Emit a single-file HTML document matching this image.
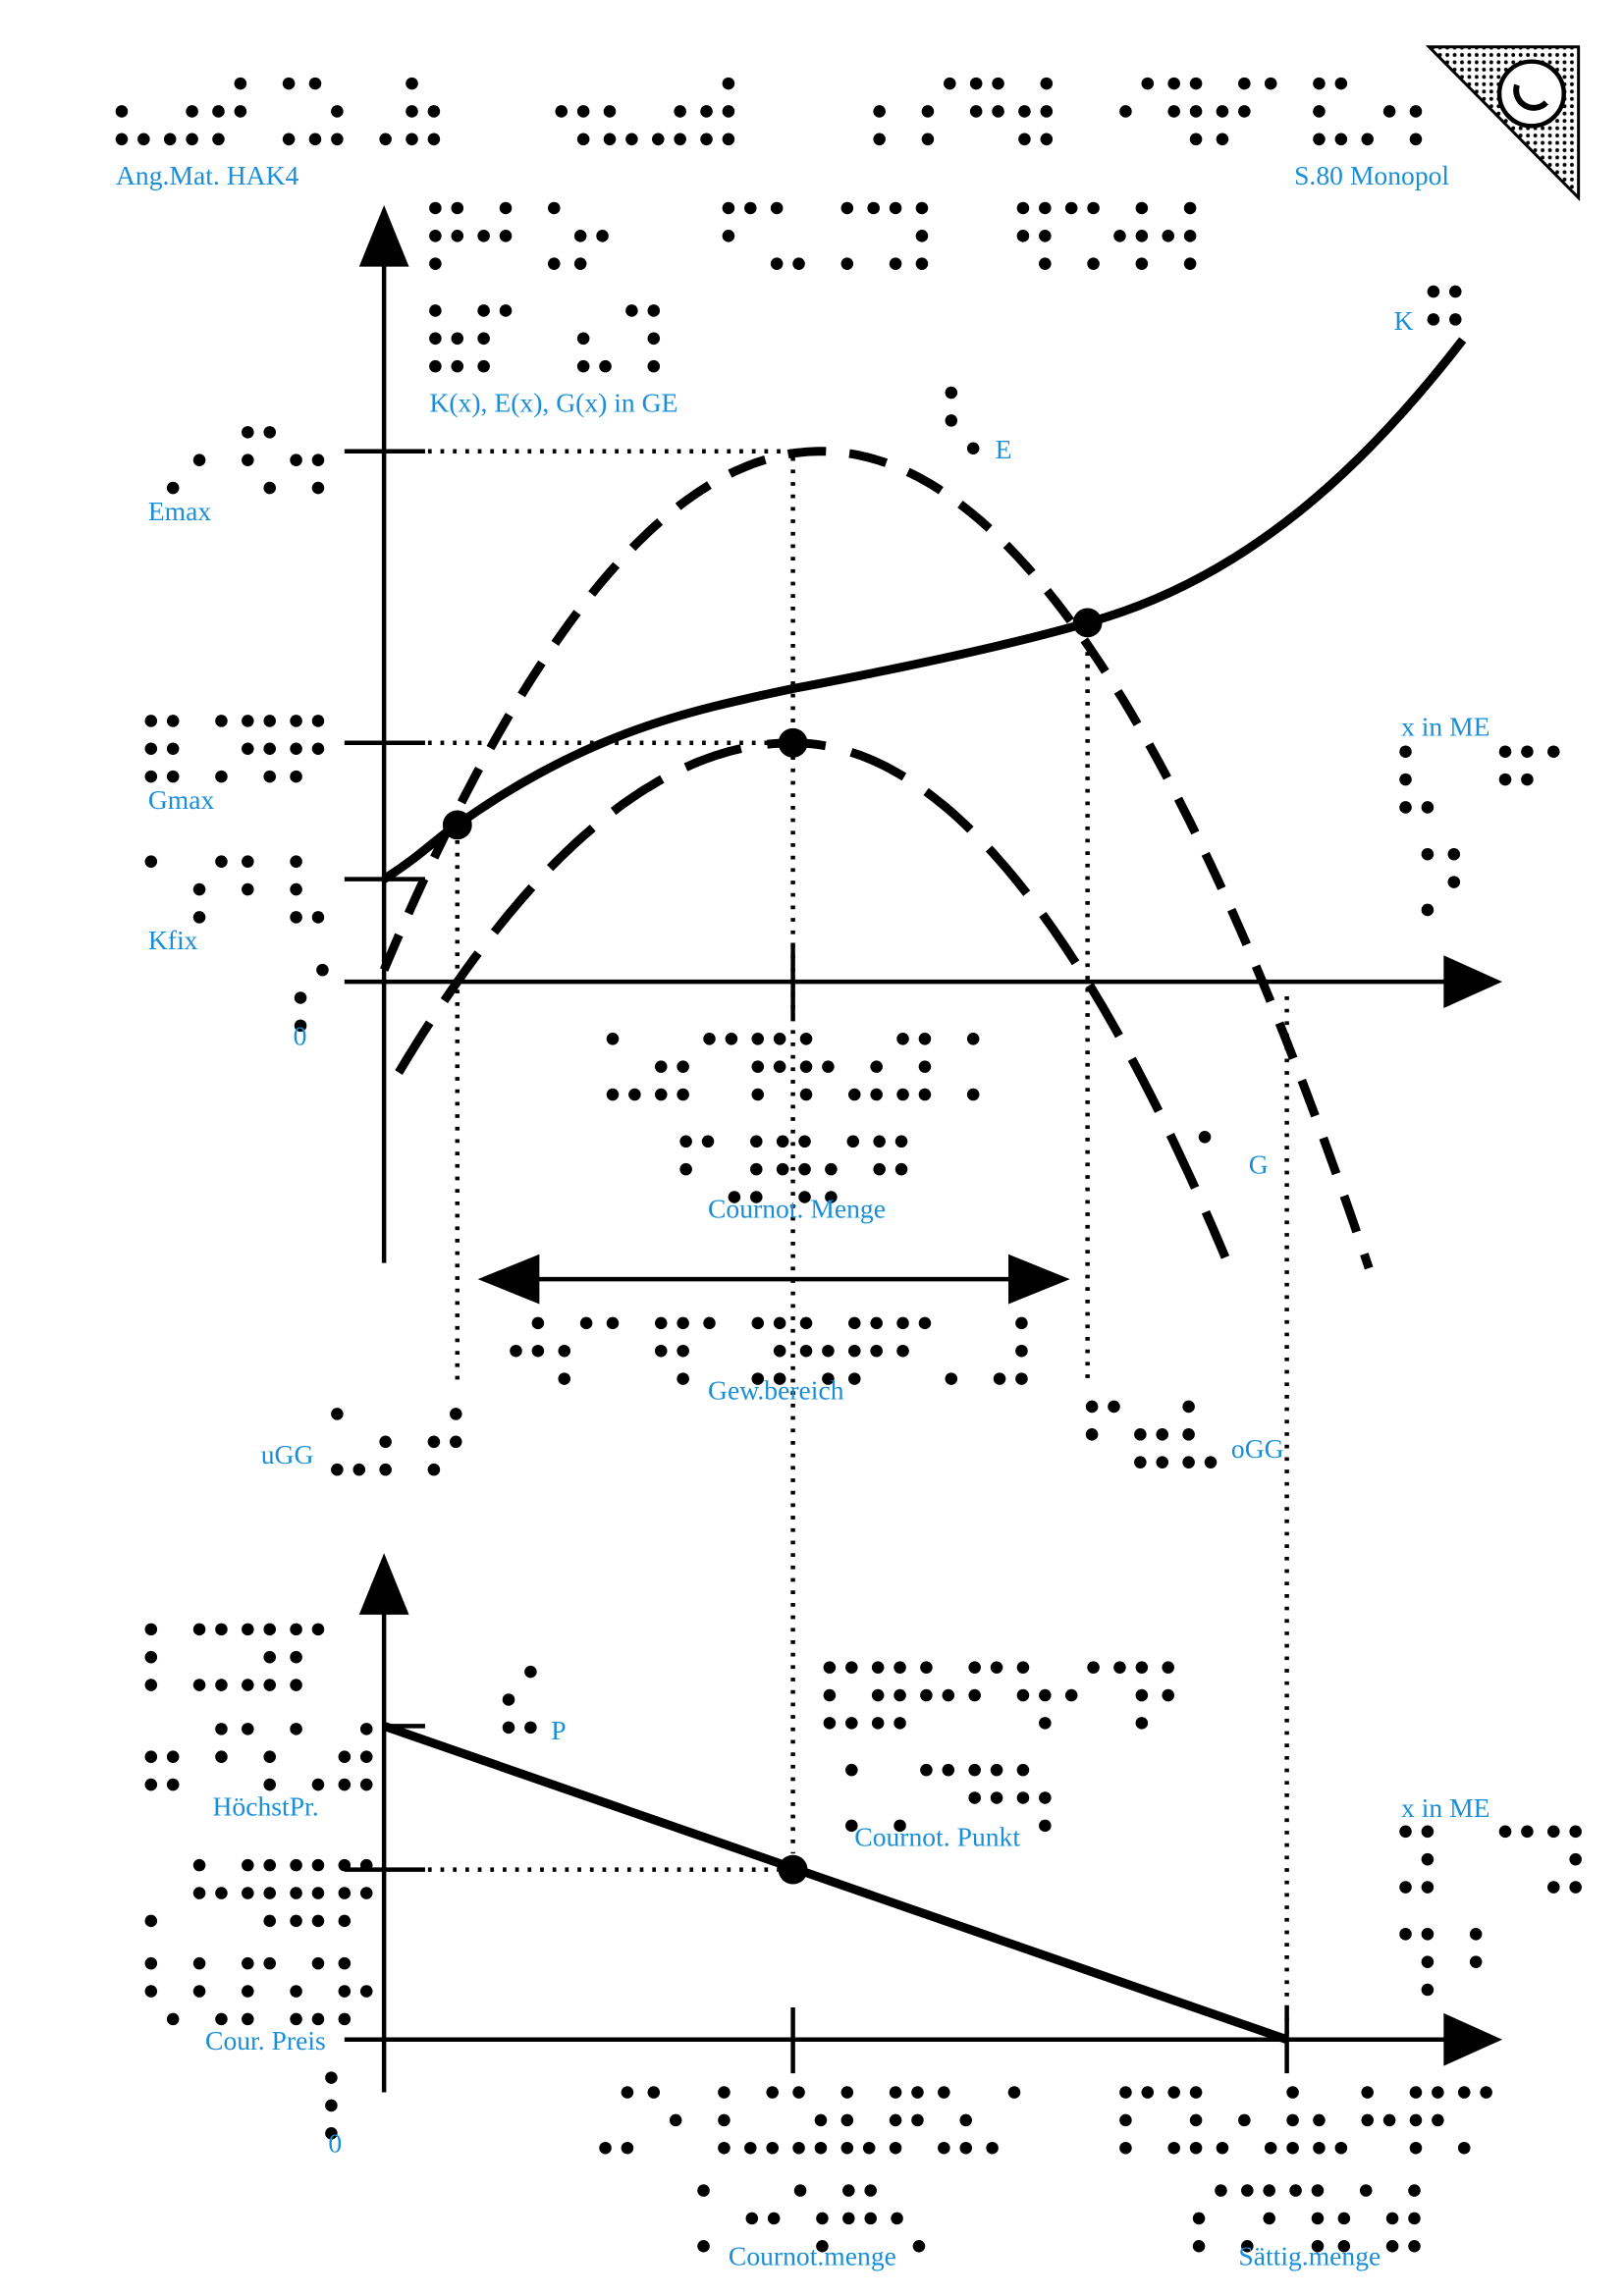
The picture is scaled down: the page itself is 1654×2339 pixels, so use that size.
<!DOCTYPE html>
<html><head><meta charset="utf-8">
<style>
html,body{margin:0;padding:0;background:#fff;}
svg{display:block;}
text{font-family:"Liberation Serif",serif;font-size:18.5px;fill:#1a8fd8;}
</style></head>
<body>
<svg id="s" width="1654" height="2339" viewBox="0 0 1108 1567" xmlns="http://www.w3.org/2000/svg">
<defs>
<pattern id="dp" width="5" height="5" patternUnits="userSpaceOnUse"><circle cx="2.5" cy="2.5" r="1.3" fill="#000"/></pattern>
</defs>
<polygon points="975,32 1077,32 1077,135" fill="url(#dp)" stroke="#000" stroke-width="2"/>
<circle cx="1045" cy="64" r="22" fill="#fff" stroke="#000" stroke-width="3"/>
<path d="M1035,58 a12,12 0 0 0 20,12" fill="none" stroke="#000" stroke-width="4"/>

<g stroke="#000" fill="none">
<line x1="262" y1="170" x2="262" y2="862" stroke-width="3"/>
<line x1="235" y1="670" x2="995" y2="670" stroke-width="3"/>
<line x1="235" y1="308" x2="290" y2="308" stroke-width="3"/>
<line x1="235" y1="507" x2="290" y2="507" stroke-width="3"/>
<line x1="235" y1="600" x2="290" y2="600" stroke-width="3"/>
<line x1="541" y1="645" x2="541" y2="695" stroke-width="3"/>
<g stroke-width="3" stroke-dasharray="2.5 6">
<line x1="292" y1="308" x2="541" y2="308"/>
<line x1="292" y1="507" x2="541" y2="507"/>
<line x1="541" y1="312" x2="541" y2="1265"/>
<line x1="312" y1="565" x2="312" y2="945"/>
<line x1="742" y1="428" x2="742" y2="942"/>
<line x1="878" y1="680" x2="878" y2="1390"/>
<line x1="292" y1="1276" x2="541" y2="1276"/>
</g>
<path d="M262,600 C290,582 300,570 312,563 C400,500 470,485 541,470 C620,455 690,440 742,425 C850,395 930,320 998,232" stroke-width="6"/>
<path id="E" stroke-width="6" stroke-dasharray="26 16"/>
<path id="G" stroke-width="6" stroke-dasharray="40 18"/>
<line x1="360" y1="873" x2="700" y2="873" stroke-width="3"/>
<line x1="262" y1="1090" x2="262" y2="1428" stroke-width="3"/>
<line x1="235" y1="1392" x2="995" y2="1392" stroke-width="3"/>
<line x1="262" y1="1178" x2="290" y2="1178" stroke-width="3"/>
<line x1="235" y1="1276" x2="290" y2="1276" stroke-width="3"/>
<line x1="541" y1="1370" x2="541" y2="1415" stroke-width="3"/>
<line x1="878" y1="1370" x2="878" y2="1415" stroke-width="3"/>
<line x1="262" y1="1178" x2="878" y2="1392" stroke-width="6"/>
</g>
<g fill="#000">
<polygon points="262,140 245,182 279,182"/>
<polygon points="1025,670 985,652 985,688"/>
<polygon points="262,1060 245,1102 279,1102"/>
<polygon points="1025,1392 985,1374 985,1410"/>
<polygon points="326,873 368,856 368,890"/>
<polygon points="730,873 688,856 688,890"/>
<circle cx="312" cy="563" r="10"/>
<circle cx="541" cy="507" r="10"/>
<circle cx="742" cy="425" r="10"/>
<circle cx="541" cy="1276" r="10"/>
</g>
<g id="br" fill="#000"></g>
<text x="79" y="126">Ang.Mat. HAK4</text>
<text x="883" y="126">S.80 Monopol</text>
<text x="293" y="281">K(x), E(x), G(x) in GE</text>
<text x="951" y="225">K</text>
<text x="679" y="313">E</text>
<text x="101" y="355">Emax</text>
<text x="101" y="552">Gmax</text>
<text x="101" y="648">Kfix</text>
<text x="200" y="713">0</text>
<text x="956" y="502">x in ME</text>
<text x="483" y="831">Cournot. Menge</text>
<text x="852" y="801">G</text>
<text x="483" y="955">Gew.bereich</text>
<text x="178" y="999">uGG</text>
<text x="840" y="995">oGG</text>
<text x="376" y="1187">P</text>
<text x="145" y="1239">HöchstPr.</text>
<text x="583" y="1260">Cournot. Punkt</text>
<text x="956" y="1240">x in ME</text>
<text x="140" y="1399">Cour. Preis</text>
<text x="224" y="1469">0</text>
<text x="497" y="1546">Cournot.menge</text>
<text x="845" y="1546">Sättig.menge</text>
</svg>
<script>
(function(){
  function path(f,x0,x1){var d='';for(var x=x0;x<=x1;x+=3){d+=(x==x0?'M':'L')+x+','+f(x).toFixed(1)+' ';}return d;}
  document.getElementById('E').setAttribute('d',path(function(x){return 308+0.003986*(x-560)*(x-560);},262,935));
  document.getElementById('G').setAttribute('d',path(function(x){var a=x<541?0.00311:0.004035;return 507+a*(x-541)*(x-541);},272,836));
  var g=document.getElementById('br'),seed=7;
  function rnd(){seed=(seed*1103515245+12345)%2147483648;return seed/2147483648;}
  function B(x,y,n){
    for(var c=0;c<n;c++){
      var cnt=0;
      for(var i=0;i<6;i++){
        var on=rnd()<0.55;
        if(i==5&&cnt==0)on=true;
        if(!on)continue;cnt++;
        var cx=x+c*33+(i>=3?15:0),cy=y+(i%3)*19;
        var e=document.createElementNS('http://www.w3.org/2000/svg','circle');
        e.setAttribute('cx',cx);e.setAttribute('cy',cy);e.setAttribute('r',4.2);g.appendChild(e);
      }
    }
  }
  var L=[[83,57,7],[383,57,4],[600,57,4],[768,57,7],
  [297,142,4],[497,142,5],[698,142,4],[297,212,2],[398,212,2],[649,268,1],[978,180,1],
  [103,295,4],[103,492,4],[103,588,4],[205,662,1],
  [959,513,1],[1027,513,2],[959,583,2],
  [418,709,8],[468,779,5],[822,757,1],[352,903,11],[230,965,3],[745,960,3],
  [103,1112,4],[103,1180,5],[103,1273,5],[103,1340,5],[347,1141,1],[566,1138,8],[566,1208,5],
  [959,1250,1],[1027,1250,2],[959,1320,2],[226,1418,1],[413,1428,9],[480,1495,5],[768,1428,8],[818,1495,5]];
  L.forEach(function(a){B(a[0],a[1],a[2]);});
})();
</script>
</body></html>
